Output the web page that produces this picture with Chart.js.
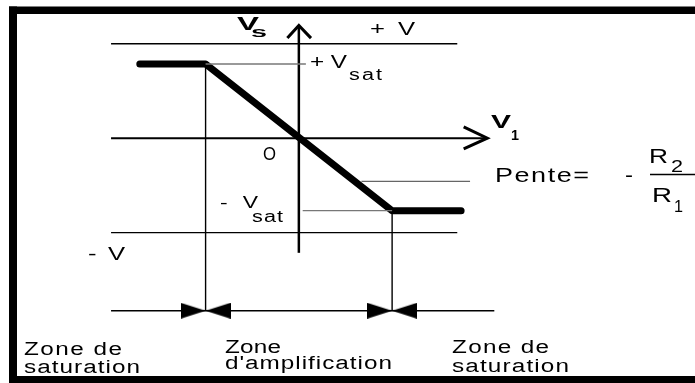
<!DOCTYPE html>
<html>
<head>
<meta charset="utf-8">
<script src="https://cdn.jsdelivr.net/npm/chart.js@4/dist/chart.umd.min.js"></script>
<style>
  body { margin: 0; background: #fff; }
  #wrap { position: relative; width: 695px; height: 383px; }
</style>
</head>
<body>
<div id="wrap"><canvas id="chart"></canvas></div>
<script>
// transfer curve Vs = f(V1), in volts
const curveV1 = [-24.9, -14.6, 14.6, 25.4];
const curveVs = [11.8, 11.8, -11.5, -11.5];

// supply rails +V / -V
const railLevels = [15, -15];
const railSpan = [-29.4, 24.8];

// saturation levels +Vsat / -Vsat
const satLevels = [11.8, -11.5];
const satSpanPos = [-14.6, 1.1];
const satSpanNeg = [0.6, 14.6];

// zone limits (V1 where saturation starts)
const zoneBounds = [-14.6, 14.6];
const zoneLevel = -27.4;
const zoneSpan = [-29.4, 30.6];

// little line next to "Pente="
const slopeLevel = -6.85;
const slopeSpan = [9.8, 26.8];

// axes
const axisV1 = [-29.4, 29.5];
const axisVs = [-18.2, 17.9];

// view window (whole canvas)
const xMin = -45.846, xMax = 61.077;
const yMin = -37.923, yMax = 21;

function seg(x, y) {
  return x.map((v, i) => ({ x: v, y: y[i] }));
}

function lineSet(points, color, width) {
  return {
    data: points,
    showLine: true,
    borderColor: color,
    borderWidth: width,
    pointRadius: 0,
    tension: 0,
    fill: false
  };
}

// bow-tie marker for the zone limits
function bowtie() {
  const c = document.createElement('canvas');
  c.width = 50; c.height = 16;
  const g = c.getContext('2d');
  g.fillStyle = '#000';
  g.beginPath();
  g.moveTo(0, 0); g.lineTo(25, 8); g.lineTo(0, 16); g.closePath();
  g.moveTo(50, 0); g.lineTo(25, 8); g.lineTo(50, 16); g.closePath();
  g.fill();
  return c;
}

const datasets = [];

railLevels.forEach(lv => {
  datasets.push(lineSet(seg(railSpan, [lv, lv]), '#000', 1.4));
});
datasets.push(lineSet(seg(satSpanPos, [satLevels[0], satLevels[0]]), '#777', 1.4));
datasets.push(lineSet(seg(satSpanNeg, [satLevels[1], satLevels[1]]), '#777', 1.4));
datasets.push(lineSet(seg(slopeSpan, [slopeLevel, slopeLevel]), '#666', 1.4));
datasets.push(lineSet(seg(zoneSpan, [zoneLevel, zoneLevel]), '#000', 1.4));
datasets.push(lineSet(seg([zoneBounds[0], zoneBounds[0]], [satLevels[0], zoneLevel]), '#000', 1.4));
datasets.push(lineSet(seg([zoneBounds[1], zoneBounds[1]], [satLevels[1], zoneLevel]), '#000', 1.4));

// axes with open arrow heads
datasets.push(lineSet(seg(axisV1, [0, 0]), '#000', 2));
datasets.push(lineSet(seg([0, 0], axisVs), '#000', 2.5));
datasets.push(lineSet(seg([-1.8, 0, 1.9], [axisVs[1] - 2, axisVs[1], axisVs[1] - 2]), '#000', 3));
datasets.push(lineSet(seg([axisV1[1] - 3.7, axisV1[1], axisV1[1] - 3.7], [1.8, 0, -1.7]), '#000', 3));

// the characteristic itself
const curve = lineSet(seg(curveV1, curveVs), '#000', 7);
curve.borderCapStyle = 'round';
curve.borderJoinStyle = 'round';
datasets.push(curve);

// zone markers
const tie = bowtie();
datasets.push({
  data: seg(zoneBounds, [zoneLevel, zoneLevel]),
  showLine: false,
  pointStyle: tie,
  pointRadius: 5,
  pointHoverRadius: 5
});

const labels = [
  { t: 'V', x: 237, y: 30, s: 18, b: true, w: 22 },
  { t: 's', x: 251, y: 37, s: 15, b: true, w: 16 },
  { t: '+ V', x: 370, y: 35, s: 19, w: 45 },
  { t: '+V', x: 310, y: 68, s: 18, w: 37 },
  { t: 'sat', x: 349, y: 80, s: 16, w: 33 },
  { t: 'O', x: 263, y: 160, s: 18, w: 13 },
  { t: 'V', x: 491, y: 128, s: 18, b: true, w: 20 },
  { t: '1', x: 511, y: 140, s: 15, b: true, w: 8 },
  { t: 'Pente=', x: 495, y: 182, s: 20, w: 94 },
  { t: '-', x: 625, y: 182, s: 20, w: 8 },
  { t: 'R', x: 649, y: 163, s: 20, w: 19 },
  { t: '2', x: 671, y: 172, s: 16, w: 12 },
  { t: 'R', x: 652, y: 202, s: 20, w: 20 },
  { t: '1', x: 674, y: 212, s: 16, w: 9 },
  { t: '- V', x: 220, y: 208, s: 17, w: 38 },
  { t: 'sat', x: 252, y: 222, s: 16, w: 31 },
  { t: '- V', x: 88, y: 260, s: 19, w: 37 },
  { t: 'Zone de', x: 24, y: 355, s: 18, w: 98 },
  { t: 'saturation', x: 24, y: 373, s: 18, w: 116 },
  { t: 'Zone', x: 225, y: 353, s: 18, w: 56 },
  { t: "d'amplification", x: 225, y: 369, s: 18, w: 167 },
  { t: 'Zone de', x: 452, y: 353, s: 18, w: 97 },
  { t: 'saturation', x: 452, y: 372, s: 18, w: 117 }
];

// glyphs wider than Arial, plus a little spacing to reach the measured width
function drawLabel(ctx, l) {
  ctx.font = (l.b ? 'bold ' : '') + l.s + 'px "Liberation Sans", Arial, sans-serif';
  const chars = [...l.t];
  const ws = chars.map(c => ctx.measureText(c).width);
  const raw = ws.reduce((a, b) => a + b, 0);
  let sx = chars.length > 1 ? 1.35 : l.w / raw;
  let gap = 0;
  if (chars.length > 1) {
    gap = (l.w - raw * sx) / (chars.length - 1);
    if (gap < 0) { sx = l.w / raw; gap = 0; }
  }
  let x = l.x;
  chars.forEach((c, i) => {
    ctx.save();
    ctx.translate(x, l.y);
    ctx.scale(sx, 1);
    ctx.fillText(c, 0, 0);
    ctx.restore();
    x += ws[i] * sx + gap;
  });
}

const decor = {
  id: 'decor',
  beforeDraw(chart) {
    const ctx = chart.ctx;
    ctx.save();
    ctx.fillStyle = '#fff';
    ctx.fillRect(0, 0, chart.width, chart.height);
    ctx.fillStyle = '#000';
    ctx.fillRect(9, 6.5, 8, chart.height);      // left
    ctx.fillRect(9, 6.5, chart.width, 7.5);    // top
    ctx.fillRect(9, 376, chart.width, 8);      // bottom
    ctx.restore();
  },
  afterDatasetsDraw(chart) {
    const ctx = chart.ctx;
    ctx.save();
    ctx.fillStyle = '#000';
    ctx.textBaseline = 'alphabetic';
    labels.forEach(l => drawLabel(ctx, l));
    // fraction bar
    ctx.strokeStyle = '#000';
    ctx.lineWidth = 1.5;
    ctx.beginPath();
    ctx.moveTo(650, 174.5);
    ctx.lineTo(700, 174.5);
    ctx.stroke();
    ctx.restore();
  }
};

new Chart(document.getElementById('chart'), {
  type: 'scatter',
  data: { datasets },
  options: {
    responsive: true,
    maintainAspectRatio: false,
    animation: false,
    layout: { padding: 0 },
    plugins: { legend: { display: false }, tooltip: { enabled: false } },
    scales: {
      x: { type: 'linear', min: xMin, max: xMax, display: false },
      y: { type: 'linear', min: yMin, max: yMax, display: false }
    }
  },
  plugins: [decor]
});
</script>
</body>
</html>
